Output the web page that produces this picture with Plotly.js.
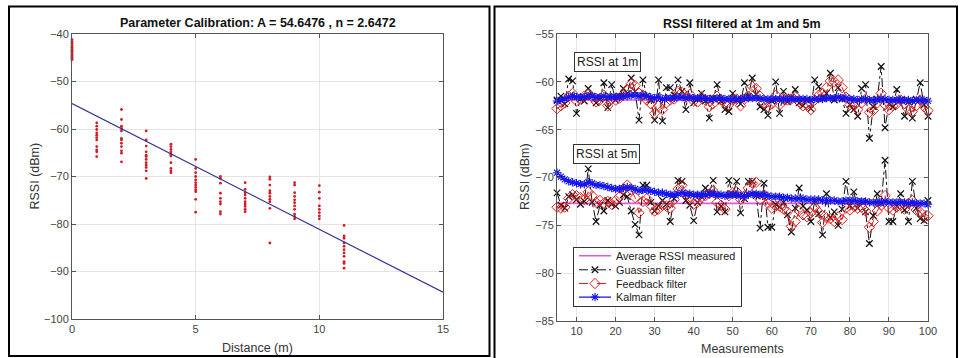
<!DOCTYPE html>
<html>
<head>
<meta charset="utf-8">
<script src="https://cdn.plot.ly/plotly-3.0.1.min.js"></script>
<style>html,body{margin:0;padding:0;background:#fff;}#chart{width:961px;height:358px;}</style>
</head>
<body>
<div id="chart"></div>
<script>
// ---------- Left chart: parameter calibration ----------
const calibTitle = "Parameter Calibration: A = 54.6476 , n = 2.6472";
const distances = [0, 1, 2, 3, 4, 5, 6, 7, 8, 9, 10, 11];
const rssiAtD0 = [-41.2, -41.6, -42.0, -42.4, -42.8, -43.1, -43.4, -43.7, -44.0, -44.3, -44.6, -44.9, -45.2, -45.4];
const rssiAtD1 = [-58.7, -59.4, -60.1, -60.8, -61.3, -61.8, -62.3, -63.7, -64.4, -64.8, -65.8];
const rssiAtD2 = [-55.9, -58.0, -59.4, -59.9, -60.4, -62.0, -62.3, -63.0, -63.7, -64.6, -65.1, -66.9];
const rssiAtD3 = [-60.4, -62.3, -63.6, -64.8, -65.5, -65.8, -66.4, -67.1, -67.6, -68.1, -68.8, -70.4];
const rssiAtD4 = [-63.2, -63.7, -64.3, -64.8, -65.3, -65.7, -67.1, -68.3, -68.8, -69.2];
const rssiAtD5 = [-66.4, -68.3, -69.2, -70.0, -70.7, -71.3, -71.8, -72.3, -72.8, -73.2, -74.8, -77.5];
const rssiAtD6 = [-70.0, -70.4, -71.4, -73.5, -74.6, -75.3, -75.8, -77.4, -77.9];
const rssiAtD7 = [-71.3, -72.7, -73.4, -73.9, -74.6, -75.3, -75.8, -76.3, -76.9, -77.4];
const rssiAtD8 = [-70.1, -70.6, -71.8, -73.0, -73.5, -74.2, -74.8, -75.3, -76.7, -84.0];
const rssiAtD9 = [-71.3, -71.8, -73.4, -74.2, -74.9, -75.5, -76.2, -76.9, -77.9, -78.4, -78.9];
const rssiAtD10 = [-71.9, -73.3, -74.6, -76.2, -76.9, -77.6, -78.3, -78.9];
const rssiAtD11 = [-80.3, -82.5, -83.0, -84.0, -84.7, -85.4, -86.1, -86.8, -87.9, -88.3, -89.3];
const fitX = [0, 15];
const fitY = [-54.6476, -94.3556];

// ---------- Right chart: filtered RSSI ----------
const filterTitle = "RSSI filtered at 1m and 5m";
const measurements = [5,6,7,8,9,10,11,12,13,14,15,16,17,18,19,20,21,22,23,24,25,26,27,28,29,30,
  31,32,33,34,35,36,37,38,39,40,41,42,43,44,45,46,47,48,49,50,51,52,53,54,55,56,57,58,59,60,
  61,62,63,64,65,66,67,68,69,70,71,72,73,74,75,76,77,78,79,80,81,82,83,84,85,86,87,88,89,90,
  91,92,93,94,95,96,97,98,99,100];
const avgX = [5, 100];
const avg1m = [-61.9, -61.9];
const avg5m = [-72.7, -72.7];

const gauss1m = [-61.9,-61.5,-62.3,-59.7,-59.9,-63.3,-61.8,-62.0,-60.7,-61.5,
  -62.2,-61.8,-60.1,-62.7,-60.3,-61.9,-61.5,-60.7,-61.2,-59.6,
  -61.0,-64.0,-59.8,-61.5,-61.9,-64.0,-59.8,-64.1,-60.6,-60.6,
  -61.4,-59.8,-61.0,-62.9,-60.1,-62.2,-61.8,-61.2,-62.0,-63.8,
  -61.7,-60.3,-62.0,-62.9,-63.1,-61.2,-61.9,-62.3,-60.1,-61.5,
  -59.6,-61.3,-62.6,-62.9,-63.5,-62.0,-60.0,-63.3,-61.0,-62.1,
  -61.6,-60.8,-62.2,-62.5,-61.9,-62.8,-59.8,-60.5,-61.7,-61.2,
  -59.1,-61.9,-60.6,-61.8,-63.3,-62.4,-62.9,-63.6,-60.7,-60.3,
  -65.9,-62.6,-61.8,-58.4,-64.8,-62.3,-62.6,-60.8,-61.9,-63.6,
  -62.1,-63.8,-61.8,-60.1,-62.4,-63.6];
const feedback1m = [-62.8,-62.5,-62.2,-61.5,-61.2,-62.0,-61.8,-61.5,-61.3,-61.6,
  -62.1,-61.9,-61.4,-62.5,-61.8,-61.9,-61.7,-61.3,-60.8,-60.2,
  -60.4,-61.2,-61.4,-61.9,-62.3,-63.3,-62.5,-62.9,-62.2,-61.9,
  -61.8,-61.0,-61.1,-61.6,-61.3,-62.0,-62.1,-61.6,-61.9,-62.6,
  -62.3,-61.5,-61.9,-62.2,-62.4,-61.9,-61.8,-62.5,-61.8,-61.5,
  -60.5,-60.7,-61.5,-62.2,-62.6,-62.3,-61.4,-62.4,-61.8,-61.9,
  -61.8,-61.5,-62.1,-62.5,-62.4,-62.9,-61.9,-61.4,-61.2,-60.6,
  -59.9,-60.0,-59.8,-60.6,-61.6,-62.4,-62.5,-62.9,-62.2,-61.8,
  -63.2,-63.0,-62.2,-61.2,-62.4,-62.9,-62.5,-62.3,-61.9,-62.3,
  -62.9,-63.1,-62.5,-61.9,-62.6,-63.0];
const kalman1m = [-62.0,-61.9,-61.8,-61.6,-61.5,-61.6,-61.6,-61.6,-61.5,-61.5,
  -61.6,-61.6,-61.5,-61.6,-61.6,-61.6,-61.6,-61.5,-61.5,-61.4,
  -61.4,-61.5,-61.4,-61.5,-61.6,-61.7,-61.6,-61.8,-61.7,-61.7,
  -61.7,-61.6,-61.6,-61.7,-61.6,-61.7,-61.7,-61.7,-61.7,-61.8,
  -61.8,-61.7,-61.7,-61.8,-61.8,-61.8,-61.8,-61.8,-61.7,-61.7,
  -61.7,-61.7,-61.7,-61.8,-61.8,-61.8,-61.8,-61.8,-61.8,-61.8,
  -61.8,-61.8,-61.8,-61.8,-61.8,-61.9,-61.8,-61.8,-61.8,-61.7,
  -61.7,-61.7,-61.6,-61.7,-61.7,-61.8,-61.8,-61.9,-61.8,-61.8,
  -61.9,-61.9,-61.9,-61.8,-61.8,-61.9,-61.9,-61.9,-61.9,-61.9,
  -61.9,-62.0,-61.9,-61.9,-61.9,-62.0];

const gauss5m = [-71.6,-72.9,-73.2,-72.0,-71.8,-72.3,-72.8,-72.5,-69.1,-72.6,
  -74.6,-72.9,-73.5,-72.4,-72.8,-73.0,-72.6,-71.8,-72.0,-73.5,
  -74.9,-76.0,-70.8,-70.8,-72.6,-73.5,-73.0,-72.4,-72.8,-74.6,
  -72.2,-70.3,-70.4,-72.4,-72.9,-74.5,-72.6,-72.0,-71.1,-71.6,
  -70.3,-73.6,-73.0,-73.6,-70.3,-71.8,-70.4,-73.7,-72.2,-70.4,
  -70.4,-71.9,-75.3,-70.6,-75.2,-75.2,-72.8,-73.1,-72.6,-73.9,
  -75.7,-73.2,-71.1,-73.0,-73.4,-74.6,-72.5,-73.8,-76.0,-71.7,
  -74.2,-73.6,-75.0,-73.3,-70.4,-73.0,-71.5,-73.2,-72.5,-73.6,
  -76.9,-74.0,-71.7,-72.7,-68.2,-74.6,-74.6,-73.0,-71.7,-73.4,
  -74.6,-70.4,-73.2,-74.3,-74.5,-72.4];
const feedback5m = [-73.1,-73.2,-73.1,-72.2,-71.8,-71.9,-72.1,-72.3,-71.5,-71.9,
  -72.6,-72.4,-72.7,-72.5,-72.8,-72.4,-72.0,-71.2,-70.8,-71.3,
  -72.1,-73.7,-72.5,-72.2,-72.9,-73.5,-73.3,-72.9,-73.0,-73.2,
  -72.3,-71.2,-70.8,-71.8,-72.0,-72.8,-72.6,-72.1,-71.9,-71.7,
  -71.4,-72.6,-72.9,-73.3,-71.9,-71.6,-71.5,-72.3,-71.9,-71.1,
  -70.6,-70.5,-72.3,-71.8,-72.7,-73.2,-73.0,-73.0,-73.3,-73.6,
  -75.1,-74.6,-73.5,-73.9,-74.1,-73.7,-73.1,-73.6,-74.7,-74.2,
  -74.3,-74.6,-74.1,-74.4,-73.2,-73.4,-73.0,-73.2,-73.1,-73.5,
  -75.2,-74.6,-73.5,-72.9,-71.9,-73.2,-73.4,-73.1,-72.9,-73.3,
  -72.7,-72.4,-73.4,-73.6,-74.2,-74.0];
const kalman5m = [-69.5,-69.9,-70.2,-70.4,-70.5,-70.6,-70.7,-70.7,-70.5,-70.6,
  -70.8,-70.8,-70.9,-71.0,-71.1,-71.2,-71.2,-71.1,-71.0,-71.1,
  -71.2,-71.4,-71.3,-71.3,-71.4,-71.5,-71.6,-71.6,-71.7,-71.8,
  -71.8,-71.7,-71.6,-71.7,-71.7,-71.8,-71.8,-71.8,-71.8,-71.7,
  -71.7,-71.8,-71.8,-71.9,-71.8,-71.8,-71.8,-71.9,-71.9,-71.8,
  -71.7,-71.7,-71.8,-71.8,-71.9,-72.0,-72.0,-72.0,-72.1,-72.1,
  -72.2,-72.2,-72.2,-72.2,-72.3,-72.3,-72.3,-72.3,-72.4,-72.4,
  -72.4,-72.4,-72.5,-72.5,-72.4,-72.4,-72.4,-72.5,-72.5,-72.5,
  -72.6,-72.6,-72.6,-72.6,-72.5,-72.6,-72.6,-72.6,-72.6,-72.6,
  -72.7,-72.6,-72.7,-72.7,-72.7,-72.8];

const seriesNames = ["Average RSSI measured", "Guassian filter", "Feedback filter", "Kalman filter"];
const boxLabels = ["RSSI at 1m", "RSSI at 5m"];

// ---------- build ----------
const FONT = "Liberation Sans, Arial, Helvetica, sans-serif";
const W = 961, H = 358;
const px = v => v / W;
const py = v => 1 - v / H;

const groups = [rssiAtD0, rssiAtD1, rssiAtD2, rssiAtD3, rssiAtD4, rssiAtD5, rssiAtD6, rssiAtD7, rssiAtD8, rssiAtD9, rssiAtD10, rssiAtD11];
const scatX = [], scatY = [];
groups.forEach((g, i) => g.forEach(v => { scatX.push(distances[i]); scatY.push(v); }));

const C_AVG = "rgb(222,90,222)", C_G = "#111111", C_F = "rgb(225,30,30)", C_K = "rgb(20,20,235)";

const traces = [
  {x: scatX, y: scatY, xaxis: "x", yaxis: "y", mode: "markers", type: "scatter", showlegend: false,
   cliponaxis: false, marker: {color: "rgb(215,25,35)", size: 2.8, symbol: "circle"}},
  {x: fitX, y: fitY, xaxis: "x", yaxis: "y", mode: "lines", type: "scatter", showlegend: false,
   line: {color: "rgb(50,50,150)", width: 1.2}},
];

function addGroup(avg, g, f, k, show) {
  traces.push({x: avgX, y: avg, xaxis: "x2", yaxis: "y2", mode: "lines", name: seriesNames[0], showlegend: show,
    line: {color: C_AVG, width: 1.6}});
  traces.push({x: measurements, y: g, xaxis: "x2", yaxis: "y2", mode: "lines+markers", name: seriesNames[1], showlegend: show,
    line: {color: C_G, width: 1, dash: "dashdot"}, marker: {symbol: "x-thin-open", size: 6.5, color: C_G, line: {color: C_G, width: 1.2}}});
  traces.push({x: measurements, y: f, xaxis: "x2", yaxis: "y2", mode: "lines+markers", name: seriesNames[2], showlegend: show,
    line: {color: C_F, width: 1, dash: "dash"}, marker: {symbol: "diamond-open", size: 8, color: C_F, line: {color: C_F, width: 1}}});
  traces.push({x: measurements, y: k, xaxis: "x2", yaxis: "y2", mode: "lines+markers", name: seriesNames[3], showlegend: show,
    line: {color: C_K, width: 1.2}, marker: {symbol: "asterisk-open", size: 7, color: C_K, line: {color: C_K, width: 1.1}}});
}
addGroup(avg5m, gauss5m, feedback5m, kalman5m, true);
addGroup(avg1m, gauss1m, feedback1m, kalman1m, false);
traces.forEach(t => { if (!t.type) t.type = "scatter"; if (t.xaxis === "x2") t.cliponaxis = false; });

const axisBase = {
  showline: true, linecolor: "#555", linewidth: 1, mirror: "ticks",
  ticks: "inside", ticklen: 4, tickcolor: "#555", tickwidth: 1,
  showgrid: true, gridcolor: "#e4e4e4", gridwidth: 1, zeroline: false,
  tickfont: {family: FONT, size: 11, color: "#444"}, fixedrange: true
};

const LEG_TOP = 246.7, LEG_ROWS = [256, 270, 283.7, 297.3], LEG_H = 59.3;

const layout = {
  width: W, height: H, autosize: false,
  margin: {l: 0, r: 0, t: 0, b: 0, pad: 0},
  paper_bgcolor: "#fff", plot_bgcolor: "#fff",
  font: {family: FONT, size: 11, color: "#333"},
  xaxis: Object.assign({}, axisBase, {domain: [px(72), px(443)], range: [0, 15], tickvals: [0, 5, 10, 15], anchor: "y"}),
  yaxis: Object.assign({}, axisBase, {domain: [py(319), py(34)], range: [-100, -40], tickvals: [-100, -90, -80, -70, -60, -50, -40], anchor: "x"}),
  xaxis2: Object.assign({}, axisBase, {domain: [px(557), px(928)], range: [5, 100], tickvals: [10, 20, 30, 40, 50, 60, 70, 80, 90, 100], anchor: "y2"}),
  yaxis2: Object.assign({}, axisBase, {domain: [py(321), py(34)], range: [-85, -55], tickvals: [-85, -80, -75, -70, -65, -60, -55], anchor: "x2"}),
  showlegend: true,
  legend: {
    x: px(573), y: py(LEG_TOP), xanchor: "left", yanchor: "top",
    bgcolor: "#fff", bordercolor: "#333", borderwidth: 1,
    font: {family: FONT, size: 10.8, color: "#222"}, tracegroupgap: 0, itemwidth: 32,
    traceorder: "normal"
  },
  shapes: [
    {type: "rect", xref: "paper", yref: "paper", x0: px(9), x1: px(489.5), y0: py(356), y1: py(6.5),
     line: {color: "#000", width: 2}, fillcolor: "rgba(0,0,0,0)"},
    {type: "rect", xref: "paper", yref: "paper", x0: px(494.5), x1: px(957), y0: py(364), y1: py(6.5),
     line: {color: "#000", width: 2}, fillcolor: "rgba(0,0,0,0)"}
  ],
  annotations: [
    {text: "<b>" + calibTitle + "</b>", xref: "paper", yref: "paper", x: px(258), y: py(23), xanchor: "center", yanchor: "middle",
     showarrow: false, font: {family: FONT, size: 12.5, color: "#111"}},
    {text: "<b>" + filterTitle + "</b>", xref: "paper", yref: "paper", x: px(742), y: py(24), xanchor: "center", yanchor: "middle",
     showarrow: false, font: {family: FONT, size: 12.5, color: "#111"}},
    {text: "Distance (m)", xref: "paper", yref: "paper", x: px(257.5), y: py(348), xanchor: "center", yanchor: "middle",
     showarrow: false, font: {family: FONT, size: 12.5, color: "#333"}},
    {text: "Measurements", xref: "paper", yref: "paper", x: px(742.5), y: py(349), xanchor: "center", yanchor: "middle",
     showarrow: false, font: {family: FONT, size: 12.5, color: "#333"}},
    {text: "RSSI (dBm)", xref: "paper", yref: "paper", x: px(35), y: py(176.5), xanchor: "center", yanchor: "middle", textangle: -90,
     showarrow: false, font: {family: FONT, size: 12.5, color: "#333"}},
    {text: "RSSI (dBm)", xref: "paper", yref: "paper", x: px(525), y: py(177), xanchor: "center", yanchor: "middle", textangle: -90,
     showarrow: false, font: {family: FONT, size: 12.5, color: "#333"}},
    {text: boxLabels[0], xref: "x2", yref: "y2", x: 18.0, y: -57.9, xanchor: "center", yanchor: "middle",
     showarrow: false, bgcolor: "#fff", bordercolor: "#333", borderwidth: 1, borderpad: 2,
     font: {family: FONT, size: 12, color: "#222"}},
    {text: boxLabels[1], xref: "x2", yref: "y2", x: 17.6, y: -67.5, xanchor: "center", yanchor: "middle",
     showarrow: false, bgcolor: "#fff", bordercolor: "#333", borderwidth: 1, borderpad: 2,
     font: {family: FONT, size: 12, color: "#222"}}
  ]
};

Plotly.newPlot("chart", traces, layout, {displayModeBar: false, staticPlot: true}).then(gd => {
  // tighten legend row spacing to match the compact original legend box
  try {
    const items = Array.from(gd.querySelectorAll(".legend .traces"));
    items.forEach((el, i) => {
      const txt = el.querySelector("text.legendtext") || el;
      const r = txt.getBoundingClientRect();
      const center = r.top + r.height / 2;
      const delta = LEG_ROWS[i] - center;
      const tr = el.getAttribute("transform") || "";
      el.setAttribute("transform", tr + " translate(0," + delta.toFixed(2) + ")");
    });
    const bg = gd.querySelector(".legend rect.bg");
    if (bg) bg.setAttribute("height", LEG_H);
  } catch (e) {}
});
</script>
</body>
</html>
